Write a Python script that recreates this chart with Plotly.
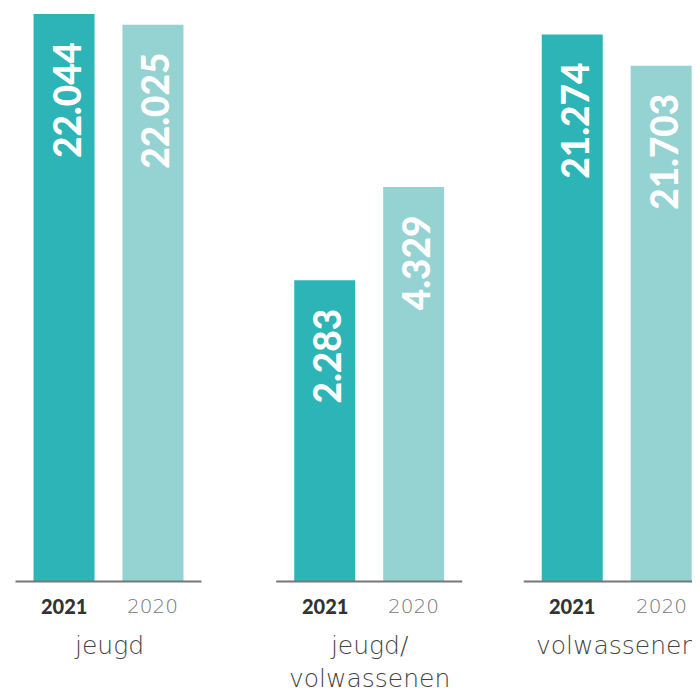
import plotly.graph_objects as go

# ---- data ----
categories = ["jeugd", "jeugd/<br>volwassenen", "volwassenen"]
years = ["2021", "2020"]
labels_2021 = ["22.044", "2.283", "21.274"]
labels_2020 = ["22.025", "4.329", "21.703"]
# bar heights as drawn (relative, tallest bar = 100)
heights_2021 = [100.0, 53.1, 96.4]
heights_2020 = [98.1, 69.5, 90.9]

# ---- styles / layout ----
DARK = "#2CB4B6"
LIGHT = "#95D2D2"
GROUP_POS = [0.0, 1.026, 2.0]   # group centres on the x axis
OFF = 0.175      # half distance between bar centres in a group
BAR_W = 0.24
LINE_HALF = 0.366

fig = go.Figure()
fig.add_trace(go.Bar(x=[g - OFF for g in GROUP_POS], y=heights_2021, width=BAR_W,
                     marker=dict(color=DARK, line=dict(width=0)), name=years[0],
                     hoverinfo="skip"))
fig.add_trace(go.Bar(x=[g + OFF for g in GROUP_POS], y=heights_2020, width=BAR_W,
                     marker=dict(color=LIGHT, line=dict(width=0)), name=years[1],
                     hoverinfo="skip"))

annotations = []
value_font = dict(family="Lato, 'Open Sans', sans-serif", size=37, color="white", weight=900)
for i, g in enumerate(GROUP_POS):
    for dx, h, lab in ((-OFF, heights_2021[i], labels_2021[i]), (OFF, heights_2020[i], labels_2020[i])):
        annotations.append(dict(x=g + dx, y=h, xref="x", yref="y", text=lab,
                                textangle=-90, showarrow=False, xanchor="center",
                                yanchor="top", yshift=-26, xshift=2, font=value_font))
    annotations.append(dict(x=g - OFF, y=0, xref="x", yref="y", text=years[0],
                            showarrow=False, yanchor="middle", yshift=-24,
                            font=dict(family="Lato, sans-serif", size=20, color="#333333", weight=900)))
    annotations.append(dict(x=g + OFF, y=0, xref="x", yref="y", text=years[1],
                            showarrow=False, yanchor="middle", yshift=-24,
                            font=dict(family="'DejaVu Sans', sans-serif", size=20, color="#777777", weight=300)))
    annotations.append(dict(x=g, y=0, xref="x", yref="y", text=categories[i],
                            showarrow=False, yanchor="top", yshift=-47, align="center",
                            font=dict(family="'DejaVu Sans', sans-serif", size=25, color="#444444", weight=300)))

shapes = [dict(type="line", xref="x", yref="y", x0=g - LINE_HALF, x1=g + LINE_HALF,
               y0=0, y1=0, line=dict(color="#777777", width=2)) for g in GROUP_POS]

fig.update_layout(
    width=700, height=693,
    margin=dict(l=0, r=0, t=0, b=110),
    plot_bgcolor="white", paper_bgcolor="white",
    showlegend=False,
    annotations=annotations,
    shapes=shapes,
    xaxis=dict(range=[-0.3955, 2.3593], showgrid=False, zeroline=False,
               showticklabels=False, ticks="", showline=False, fixedrange=True),
    yaxis=dict(range=[-1.674, 101.06], showgrid=False, zeroline=False,
               showticklabels=False, ticks="", showline=False, fixedrange=True),
)

fig.write_html("out.html")
